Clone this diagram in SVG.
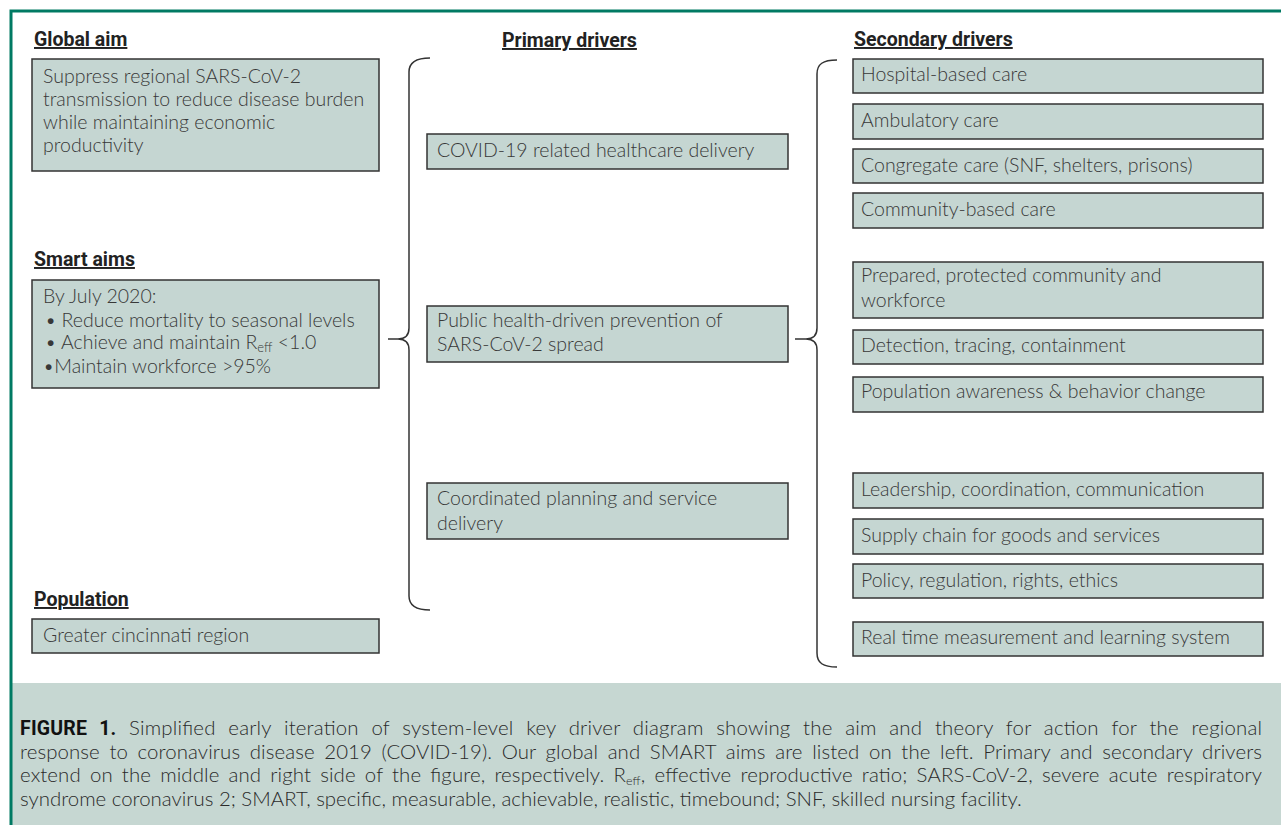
<svg xmlns="http://www.w3.org/2000/svg" width="1281" height="825" viewBox="0 0 1281 825">
<style>
.bg{fill:#ffffff}
.frame{stroke:#007a63;stroke-width:3;fill:none}
.box{fill:#c5d6d2;stroke:#333;stroke-width:1.5}
.t{font-family:Lato,"Open Sans","Liberation Sans",sans-serif;font-weight:300;font-size:19.5px;fill:#383838}
.h{font-family:Roboto,"Liberation Sans",sans-serif;font-weight:700;font-size:19.5px;fill:#222;text-decoration:underline}
.brace{fill:none;stroke:#333;stroke-width:1.5}
.cap{font-family:Lato,"Open Sans","Liberation Sans",sans-serif;font-weight:300;font-size:20.4px;fill:#2a2a2a}
.capb{font-family:Roboto,"Liberation Sans",sans-serif;font-weight:700;font-size:19.5px;fill:#111}
</style>
<rect class="bg" x="0" y="0" width="1281" height="825"/>
<rect x="12" y="683" width="1269" height="142" fill="#c6d7d2"/>
<path class="frame" d="M11,825 V11 H1281"/>

<g id="headings">
<text class="h" x="34" y="46">Global aim</text>
<text class="h" x="34" y="266">Smart aims</text>
<text class="h" x="34" y="606">Population</text>
<text class="h" x="502" y="47">Primary drivers</text>
<text class="h" x="854" y="46">Secondary drivers</text>
</g>

<g id="global-aim">
<rect class="box" x="32" y="59" width="347" height="112"/>
<text class="t" x="43" y="83">Suppress regional SARS-CoV-2</text>
<text class="t" x="43" y="106">transmission to reduce disease burden</text>
<text class="t" x="43" y="129">while maintaining economic</text>
<text class="t" x="43" y="152">productivity</text>
</g>

<g id="smart-aims">
<rect class="box" x="32" y="280" width="347" height="108"/>
<text class="t" x="43" y="303">By July 2020:</text>
<text class="t" x="45" y="327">• Reduce mortality to seasonal levels</text>
<text class="t" x="45" y="349">• Achieve and maintain R<tspan font-size="13" dy="3">eff</tspan><tspan dy="-3"> &lt;1.0</tspan></text>
<text class="t" x="43" y="373">•Maintain workforce &gt;95%</text>
</g>

<g id="population">
<rect class="box" x="32" y="619" width="347" height="34"/>
<text class="t" x="43" y="642">Greater cincinnati region</text>
</g>

<g id="pd1">
<rect class="box" x="427" y="134" width="361" height="35"/>
<text class="t" x="437" y="157">COVID-19 related healthcare delivery</text>
</g>
<g id="pd2">
<rect class="box" x="427" y="306" width="361" height="56"/>
<text class="t" x="437" y="327">Public health-driven prevention of</text>
<text class="t" x="437" y="351">SARS-CoV-2 spread</text>
</g>
<g id="pd3">
<rect class="box" x="427" y="483" width="361" height="56"/>
<text class="t" x="437" y="505">Coordinated planning and service</text>
<text class="t" x="437" y="530">delivery</text>
</g>

<g id="sd1"><rect class="box" x="853" y="59" width="410" height="34"/><text class="t" x="861" y="81">Hospital-based care</text></g>
<g id="sd2"><rect class="box" x="853" y="104" width="410" height="35"/><text class="t" x="861" y="127">Ambulatory care</text></g>
<g id="sd3"><rect class="box" x="853" y="149" width="410" height="34"/><text class="t" x="861" y="172">Congregate care (SNF, shelters, prisons)</text></g>
<g id="sd4"><rect class="box" x="853" y="193" width="410" height="35"/><text class="t" x="861" y="216">Community-based care</text></g>
<g id="sd5"><rect class="box" x="853" y="262" width="410" height="56"/><text class="t" x="861" y="282">Prepared, protected community and</text><text class="t" x="861" y="307">workforce</text></g>
<g id="sd6"><rect class="box" x="853" y="330" width="410" height="34"/><text class="t" x="861" y="352">Detection, tracing, containment</text></g>
<g id="sd7"><rect class="box" x="853" y="377" width="410" height="35"/><text class="t" x="861" y="398">Population awareness &amp; behavior change</text></g>
<g id="sd8"><rect class="box" x="853" y="473" width="410" height="35"/><text class="t" x="861" y="496">Leadership, coordination, communication</text></g>
<g id="sd9"><rect class="box" x="853" y="519" width="410" height="35"/><text class="t" x="861" y="542">Supply chain for goods and services</text></g>
<g id="sd10"><rect class="box" x="853" y="564" width="410" height="34"/><text class="t" x="861" y="587">Policy, regulation, rights, ethics</text></g>
<g id="sd11"><rect class="box" x="853" y="622" width="410" height="34"/><text class="t" x="861" y="644">Real time measurement and learning system</text></g>

<g id="connectors">
<path class="brace" d="M430,58 C416,58 409,62 409,72 V328 C409,335 405,339 398,339 H388 M398,339 C405,339 409,343 409,350 V596 C409,606 416,610 430,610"/>
<path class="brace" d="M837,60 C823,60 817,64 817,74 V328 C817,335 813,339 806,339 H795 M806,339 C813,339 817,343 817,350 V653 C817,663 823,667 837,667"/>
</g>

<g id="caption">
<text class="cap" x="20" y="735" word-spacing="7" textLength="1242" lengthAdjust="spacing"><tspan class="capb">FIGURE 1.</tspan> Simplified early iteration of system-level key driver diagram showing the aim and theory for action for the regional</text>
<text class="cap" x="20" y="759" word-spacing="4" textLength="1242" lengthAdjust="spacing">response to coronavirus disease 2019 (COVID-19). Our global and SMART aims are listed on the left. Primary and secondary drivers</text>
<text class="cap" x="20" y="782" word-spacing="3.5" textLength="1242" lengthAdjust="spacing">extend on the middle and right side of the figure, respectively. R<tspan font-size="12.5" dy="3">eff</tspan><tspan dy="-3">, effective reproductive ratio; SARS-CoV-2, severe acute respiratory</tspan></text>
<text class="cap" x="20" y="806">syndrome coronavirus 2; SMART, specific, measurable, achievable, realistic, timebound; SNF, skilled nursing facility.</text>
</g>
</svg>
